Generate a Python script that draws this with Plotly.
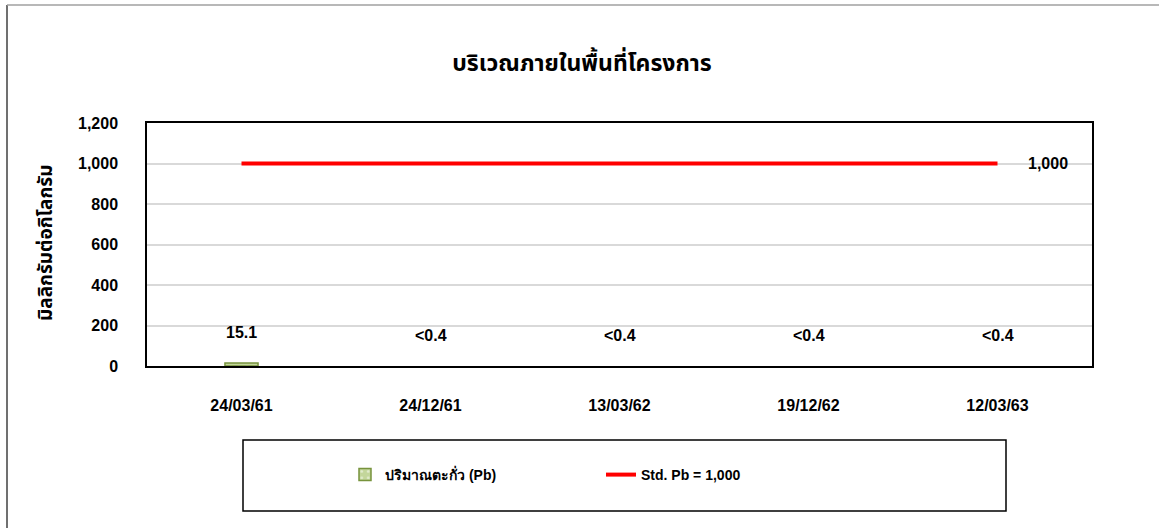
import plotly.graph_objects as go

# Sampling dates (Thai Buddhist calendar)
dates = ["24/03/61", "24/12/61", "13/03/62", "19/12/62", "12/03/63"]
# Lead content, mg/kg (None = below detection limit)
lead_values = [15.1, None, None, None, None]
lead_labels = ["15.1", "<0.4", "<0.4", "<0.4", "<0.4"]
# Standard limit for lead
std_value = 1000
std_values = [std_value] * len(dates)
y_ticks = [0, 200, 400, 600, 800, 1000, 1200]

W, H = 1159, 528
L, R, T, B = 147, 1092, 123, 366  # plot-area pixel box


def px(x):
    return (x - L) / (R - L)


def py(y):
    return (B - y) / (B - T)


BOLD = "Liberation Sans, Arial, sans-serif"
THAI = "Noto Sans Thai, Tahoma, Liberation Sans, sans-serif"

fig = go.Figure()

fig.add_trace(go.Bar(
    x=dates, y=lead_values, name="ปริมาณตะกั่ว (Pb)",
    width=0.175,
    marker=dict(color="#c3d69b",
                line=dict(color="#77933c", width=1.5),
                pattern=dict(shape=".", fgcolor="white", bgcolor="#c3d69b",
                             size=8, solidity=0.15)),
    hoverinfo="skip",
))

fig.add_trace(go.Scatter(
    x=dates, y=std_values, name="Std. Pb = 1,000", mode="lines",
    line=dict(color="#ff0000", width=4),
    hoverinfo="skip",
))

label_font = dict(family=BOLD, size=16, color="#000000", weight="bold")
annotations = []
for d, v, lab in zip(dates, lead_values, lead_labels):
    annotations.append(dict(
        x=d, y=v if v is not None else 0, xref="x", yref="y",
        text=f"<b>{lab}</b>", showarrow=False,
        yanchor="bottom", yshift=20,
        font=label_font,
    ))
annotations.append(dict(
    x=dates[-1], y=std_values[-1], xref="x", yref="y",
    text=f"<b>{std_value:,}</b>", showarrow=False, xshift=50,
    font=label_font,
))
annotations.append(dict(
    x=px(46), y=py(243), xref="paper", yref="paper", textangle=-90,
    xanchor="center", yanchor="middle",
    text="<b>มิลลิกรัมต่อกิโลกรัม</b>", showarrow=False,
    font=dict(family=THAI, size=19, color="#000000"),
))

shapes = [
    # outer chart frame
    dict(type="line", xref="paper", yref="paper", x0=px(7), x1=px(7),
         y0=py(5), y1=py(530), line=dict(color="#404040", width=1.5)),
    dict(type="line", xref="paper", yref="paper", x0=px(7), x1=px(1160),
         y0=py(5), y1=py(5), line=dict(color="#a0a0a0", width=1.5)),
    # legend frame
    dict(type="rect", xref="paper", yref="paper", x0=px(243), x1=px(1006),
         y0=py(511), y1=py(440), line=dict(color="#000000", width=1.5)),
]

tick_font = dict(family=BOLD, size=16, color="#000000", weight="bold")

fig.update_layout(
    width=W, height=H,
    margin=dict(l=L, r=W - R, t=T, b=H - B, pad=0),
    paper_bgcolor="white", plot_bgcolor="white",
    title=dict(text="บริเวณภายในพื้นที่โครงการ", x=582 / W, xanchor="center",
               y=1 - 63 / H, yanchor="middle",
               font=dict(family=THAI, size=23, color="#000000", weight="bold")),
    xaxis=dict(type="category", categoryorder="array", categoryarray=dates,
               showline=True, linecolor="#000000", linewidth=1.5, mirror=True,
               ticks="", tickfont=tick_font, ticklabelstandoff=24),
    yaxis=dict(range=[0, 1200], tickvals=y_ticks, tickformat=",d",
               showline=True, linecolor="#000000", linewidth=1.5, mirror=True,
               showgrid=True, gridcolor="#d9d9d9", gridwidth=1.5,
               zeroline=False, ticks="", tickfont=tick_font,
               ticklabelstandoff=24),
    showlegend=True,
    legend=dict(orientation="h", x=px(345), xanchor="left", y=py(475),
                yanchor="middle", bgcolor="rgba(0,0,0,0)", borderwidth=0,
                entrywidth=211, entrywidthmode="pixels",
                font=dict(family=BOLD, size=14, color="#000000", weight="bold"),
                itemclick=False, itemdoubleclick=False),
    annotations=annotations,
    shapes=shapes,
    bargap=0.5,
)

fig.write_html("out.html")
